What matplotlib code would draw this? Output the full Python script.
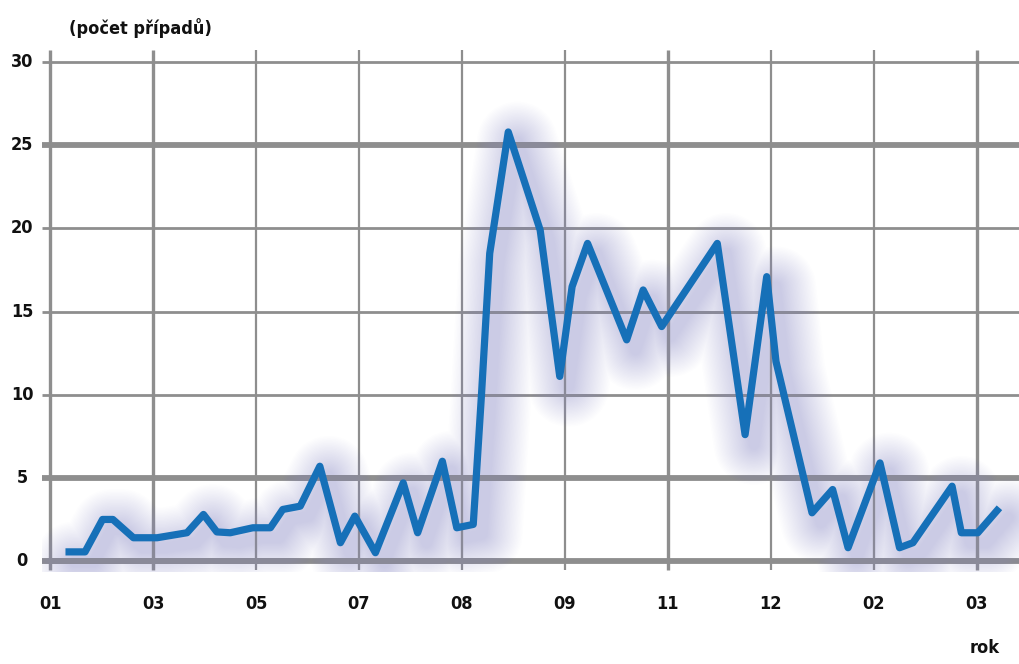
import numpy as np
import matplotlib
matplotlib.use("Agg")
import matplotlib.pyplot as plt
import matplotlib.transforms as mtransforms

# osa x: pozice v jednotkách popisků (0 = první popisek)
x_pos = [0.15, 0.34, 0.51, 0.61, 0.81, 1.04, 1.33, 1.49, 1.62, 1.75,
         1.97, 2.14, 2.26, 2.43, 2.62, 2.82, 2.96, 3.16, 3.43, 3.57,
         3.81, 3.95, 4.11, 4.19, 4.27, 4.45, 4.76, 4.95, 5.07, 5.22,
         5.60, 5.76, 5.94, 6.48, 6.75, 6.96, 7.05, 7.40, 7.60, 7.75,
         8.06, 8.25, 8.38, 8.76, 8.85, 9.01, 9.22]
values = [0.55, 0.55, 2.5, 2.5, 1.4, 1.4, 1.7, 2.8, 1.75, 1.7,
          2.0, 2.0, 3.1, 3.3, 5.7, 1.1, 2.7, 0.5, 4.7, 1.7,
          6.0, 2.0, 2.2, 10.0, 18.5, 25.8, 19.9, 11.1, 16.5, 19.1,
          13.3, 16.3, 14.1, 19.1, 7.6, 17.1, 12.0, 2.9, 4.3, 0.8,
          5.9, 0.8, 1.1, 4.5, 1.7, 1.7, 3.2]

x_labels = ["01", "03", "05", "07", "08", "09", "11", "12", "02", "03"]
y_ticks = [0, 5, 10, 15, 20, 25, 30]
y_thick = [0, 5, 25]

FONT = dict(family="DejaVu Sans", fontstretch="condensed", fontweight="heavy",
            color="#111111")

fig = plt.figure(figsize=(10.19, 6.64), dpi=100)
ax = fig.add_axes([42 / 1019, 92 / 664, 977 / 1019, 522 / 664])
ax.set_xlim(-0.078, 9.41)
ax.set_ylim(-0.66, 30.73)
ax.axis("off")

grid_c = "#8e8e8e"
for i in range(len(x_labels)):
    lw = 2.4 if i in (0, 1, 6, 9) else 1.6
    ax.vlines(i, -0.55, 30.7, color=grid_c, lw=lw, zorder=1)
for v in y_ticks:
    lw = 4.2 if v in y_thick else 2.0
    ax.hlines(v, -0.078, 9.41, color=grid_c, lw=lw, zorder=1)

# rozmazaný stín pod křivkou – hodně tenkých vrstev, ať nejsou vidět pruhy
shadow = mtransforms.offset_copy(ax.transData, fig=fig, x=9, y=-10, units="dots")
for w in np.linspace(58, 8, 26):
    ax.plot(x_pos, values, color="#8a8ad8", lw=w, alpha=0.014,
            solid_joinstyle="round", solid_capstyle="round",
            transform=shadow, zorder=2)

ax.plot(x_pos, values, color="#1670b8", lw=5.2, solid_joinstyle="round",
        solid_capstyle="butt", zorder=3)

for v in y_ticks:
    ax.text(-0.27, v, str(v), ha="center", va="center", fontsize=13, **FONT)
for i, lab in enumerate(x_labels):
    ax.text(i, -2.6, lab, ha="center", va="center", fontsize=13, **FONT)

fig.text(140 / 1019, 1 - 28 / 664, "(počet případů)", ha="center", va="center",
         fontsize=13, **FONT)
fig.text(985 / 1019, 1 - 648 / 664, "rok", ha="center", va="center",
         fontsize=13, **FONT)

fig.savefig("out.png", dpi=100, facecolor="white")
